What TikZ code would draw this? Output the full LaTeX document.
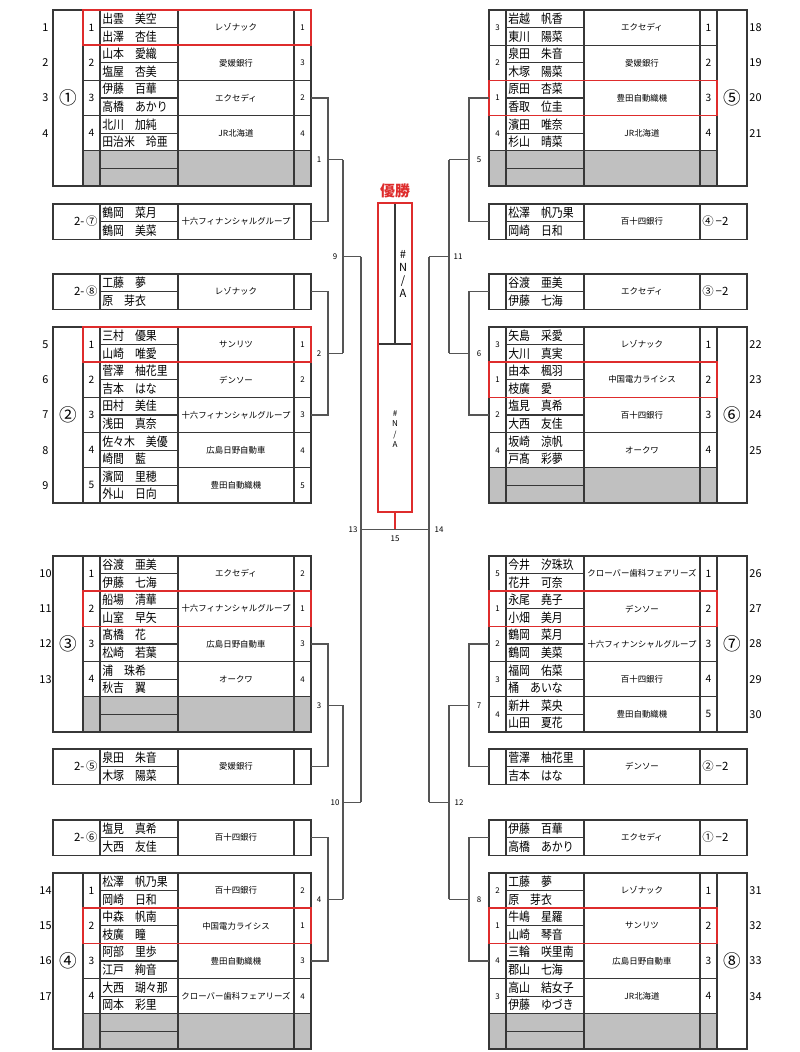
\documentclass[tikz,border=0pt]{standalone}
\usepackage{fontspec}
\setmainfont{Noto Sans CJK JP}
\usepackage{graphicx}
\usepackage{tikz}
\usetikzlibrary{calc}
\definecolor{winred}{RGB}{222,44,44}
\definecolor{rowgray}{RGB}{192,192,192}
\definecolor{linegray}{RGB}{55,55,55}
\definecolor{linkgray}{RGB}{85,85,85}
\tikzset{
  cell/.style={draw=linegray, line width=0.6pt},
  link/.style={draw=linkgray, line width=0.6pt},
  winbox/.style={draw=winred, line width=0.9pt},
  pname/.style={anchor=west, inner sep=0pt, font=\fontsize{6.2}{7}\selectfont},
  tname/.style={inner sep=0pt, font=\fontsize{4.8}{5}\selectfont},
  rowno/.style={inner sep=0pt, font=\fontsize{6.2}{7}\selectfont},
  bigno/.style={inner sep=0pt, font=\fontsize{5.8}{6}\selectfont},
  smallno/.style={inner sep=0pt, font=\fontsize{4.5}{5}\selectfont},
  poolno/.style={inner sep=0pt, font=\fontsize{10}{11}\selectfont},
  qualno/.style={inner sep=0pt, font=\fontsize{6.5}{7}\selectfont},
  linkno/.style={inner sep=0pt, font=\fontsize{4.5}{5}\selectfont},
  champ/.style={inner sep=0pt, text=winred, font=\fontsize{8.5}{9}\selectfont\bfseries}
}
\begin{document}
\begin{tikzpicture}[x=0.02cm, y=-0.02cm]
\fill[white] (0,0) rectangle (800,1052);
\useasboundingbox (0,0) rectangle (800,1052);
% empty rows
\foreach \tp in {10,556,873} \fill[rowgray] (83,\tp+140.8) rectangle (311,\tp+176);
\foreach \tp in {10,327,873} \fill[rowgray] (489,\tp+140.8) rectangle (717,\tp+176);
% pools left
\foreach \tp/\cn [count=\k] in {10/①,327/②,556/③,873/④}{
  \draw[cell] (53,\tp) rectangle (311,\tp+176);
  \foreach \x in {83,100,178,294} \draw[cell] (\x,\tp) -- (\x,\tp+176);
  \foreach \i in {1,...,4} \draw[cell] (83,\tp+35.2*\i) -- (311,\tp+35.2*\i);
  \foreach \i in {0,...,4} \draw[cell] (100,\tp+35.2*\i+17.6) -- (178,\tp+35.2*\i+17.6);
  \node[poolno] (pool\k) at (68,\tp+88) {\cn};
}
% pools right
\foreach \tp/\cn [count=\k from 5] in {10/⑤,327/⑥,556/⑦,873/⑧}{
  \draw[cell] (489,\tp) rectangle (747,\tp+176);
  \foreach \x in {506,584,700,717} \draw[cell] (\x,\tp) -- (\x,\tp+176);
  \foreach \i in {1,...,4} \draw[cell] (489,\tp+35.2*\i) -- (717,\tp+35.2*\i);
  \foreach \i in {0,...,4} \draw[cell] (506,\tp+35.2*\i+17.6) -- (584,\tp+35.2*\i+17.6);
  \node[poolno] (pool\k) at (732,\tp+88) {\cn};
}
% players left
\foreach \tp/\i/\rk/\na/\nb/\tm/\sc/\no in {
  10/1/1/出雲　美空/出澤　杏佳/レゾナック/1/1,
  10/2/2/山本　愛織/塩屋　杏美/愛媛銀行/3/2,
  10/3/3/伊藤　百華/高橋　あかり/エクセディ/2/3,
  10/4/4/北川　加純/田治米　玲亜/JR北海道/4/4,
  327/1/1/三村　優果/山崎　唯愛/サンリツ/1/5,
  327/2/2/菅澤　柚花里/吉本　はな/デンソー/2/6,
  327/3/3/田村　美佳/浅田　真奈/十六フィナンシャルグループ/3/7,
  327/4/4/佐々木　美優/崎間　藍/広島日野自動車/4/8,
  327/5/5/濱岡　里穂/外山　日向/豊田自動織機/5/9,
  556/1/1/谷渡　亜美/伊藤　七海/エクセディ/2/10,
  556/2/2/船場　清華/山室　早矢/十六フィナンシャルグループ/1/11,
  556/3/3/髙橋　花/松崎　若葉/広島日野自動車/3/12,
  556/4/4/浦　珠希/秋吉　翼/オークワ/4/13,
  873/1/1/松澤　帆乃果/岡崎　日和/百十四銀行/2/14,
  873/2/2/中森　帆南/枝廣　瞳/中国電力ライシス/1/15,
  873/3/3/阿部　里歩/江戸　絢音/豊田自動織機/3/16,
  873/4/4/大西　瑚々那/岡本　彩里/クローバー歯科フェアリーズ/4/17}{
  \pgfmathsetmacro\yc{\tp+35.2*\i-17.6}
  \coordinate (L\no) at (311,\yc);
  \node[rowno] (no\no) at (45.5,\yc) {\no};
  \node[bigno] (rk\no) at (91.5,\yc) {\rk};
  \node[pname] (na\no) at (102,\yc-8.8) {\scalebox{1}[1.15]{\na}};
  \node[pname] (nb\no) at (102,\yc+8.8) {\scalebox{1}[1.15]{\nb}};
  \node[tname] (tm\no) at (236,\yc) {\tm};
  \node[smallno] (sc\no) at (302.5,\yc) {\sc};
}
% players right
\foreach \tp/\i/\rk/\na/\nb/\tm/\sc/\no in {
  10/1/3/岩越　帆香/東川　陽菜/エクセディ/1/18,
  10/2/2/泉田　朱音/木塚　陽菜/愛媛銀行/2/19,
  10/3/1/原田　杏菜/香取　位圭/豊田自動織機/3/20,
  10/4/4/濱田　唯奈/杉山　晴菜/JR北海道/4/21,
  327/1/3/矢島　采愛/大川　真実/レゾナック/1/22,
  327/2/1/由本　楓羽/枝廣　愛/中国電力ライシス/2/23,
  327/3/2/塩見　真希/大西　友佳/百十四銀行/3/24,
  327/4/4/坂崎　涼帆/戸髙　彩夢/オークワ/4/25,
  556/1/5/今井　汐珠玖/花井　可奈/クローバー歯科フェアリーズ/1/26,
  556/2/1/永尾　堯子/小畑　美月/デンソー/2/27,
  556/3/2/鶴岡　菜月/鶴岡　美菜/十六フィナンシャルグループ/3/28,
  556/4/3/福岡　佑菜/桶　あいな/百十四銀行/4/29,
  556/5/4/新井　菜央/山田　夏花/豊田自動織機/5/30,
  873/1/2/工藤　夢/原　芽衣/レゾナック/1/31,
  873/2/1/牛嶋　星羅/山崎　琴音/サンリツ/2/32,
  873/3/4/三輪　咲里南/郡山　七海/広島日野自動車/3/33,
  873/4/3/高山　結女子/伊藤　ゆづき/JR北海道/4/34}{
  \pgfmathsetmacro\yc{\tp+35.2*\i-17.6}
  \coordinate (R\no) at (489,\yc);
  \node[rowno] (no\no) at (755.5,\yc) {\no};
  \node[smallno] (rk\no) at (497.5,\yc) {\rk};
  \node[pname] (na\no) at (508,\yc-8.8) {\scalebox{1}[1.15]{\na}};
  \node[pname] (nb\no) at (508,\yc+8.8) {\scalebox{1}[1.15]{\nb}};
  \node[tname] (tm\no) at (642,\yc) {\tm};
  \node[bigno] (sc\no) at (708.5,\yc) {\sc};
}
% second places left
\foreach \tp/\cn/\na/\nb/\tm in {
  204/⑦/鶴岡　菜月/鶴岡　美菜/十六フィナンシャルグループ,
  274/⑧/工藤　夢/原　芽衣/レゾナック,
  749/⑤/泉田　朱音/木塚　陽菜/愛媛銀行,
  820/⑥/塩見　真希/大西　友佳/百十四銀行}{
  \draw[cell] (53,\tp) rectangle (311,\tp+35.2);
  \foreach \x in {100,178,294} \draw[cell] (\x,\tp) -- (\x,\tp+35.2);
  \draw[cell] (100,\tp+17.6) -- (178,\tp+17.6);
  \coordinate (Q\cn) at (311,\tp+17.6);
  \node[qualno, anchor=east] (qn\cn) at (98,\tp+17.6) {2-\,\cn};
  \node[pname] (qa\cn) at (102,\tp+8.8) {\scalebox{1}[1.15]{\na}};
  \node[pname] (qb\cn) at (102,\tp+26.4) {\scalebox{1}[1.15]{\nb}};
  \node[tname] (qt\cn) at (236,\tp+17.6) {\tm};
}
% second places right
\foreach \tp/\cn/\na/\nb/\tm in {
  204/④/松澤　帆乃果/岡崎　日和/百十四銀行,
  274/③/谷渡　亜美/伊藤　七海/エクセディ,
  749/②/菅澤　柚花里/吉本　はな/デンソー,
  820/①/伊藤　百華/高橋　あかり/エクセディ}{
  \draw[cell] (489,\tp) rectangle (747,\tp+35.2);
  \foreach \x in {506,584,700} \draw[cell] (\x,\tp) -- (\x,\tp+35.2);
  \draw[cell] (506,\tp+17.6) -- (584,\tp+17.6);
  \coordinate (P\cn) at (489,\tp+17.6);
  \node[qualno, anchor=west] (pn\cn) at (702,\tp+17.6) {\cn\,−2};
  \node[pname] (pa\cn) at (508,\tp+8.8) {\scalebox{1}[1.15]{\na}};
  \node[pname] (pb\cn) at (508,\tp+26.4) {\scalebox{1}[1.15]{\nb}};
  \node[tname] (pt\cn) at (642,\tp+17.6) {\tm};
}
% winners of the pools
\foreach \tp in {10,327,591.2,908.2} \draw[winbox] (83,\tp) rectangle (311,\tp+35.2);
\foreach \tp in {80.4,362.2,591.2,908.2} \draw[winbox] (489,\tp) rectangle (717,\tp+35.2);
% first round
\foreach \ta/\tb/\k/\dx/\ox/\lx in {L3/Q⑦/1/17/15/-9, Q⑧/L7/2/17/15/-9,
  L12/Q⑤/3/17/15/-9, Q⑥/L16/4/17/15/-9, R20/P④/5/-20/-20/10,
  P③/R24/6/-20/-20/10, R28/P②/7/-20/-20/10, P①/R33/8/-20/-20/10}{
  \coordinate (J\k) at ($(\ta)!.5!(\tb)+(\dx,0)$);
  \coordinate (O\k) at ($(J\k)+(\ox,0)$);
  \draw[link] (\ta) -| (J\k) |- (\tb);
  \draw[link] (J\k) -- (O\k);
  \node[linkno] (lk\k) at ($(J\k)+(\lx,0)$) {\k};
}
% second round
\foreach \ta/\tb/\k/\ox/\lx in {O1/O2/9/18/-8, O3/O4/10/18/-8,
  O5/O6/11/-20/9, O7/O8/12/-20/10}{
  \coordinate (J\k) at ($(\ta)!.5!(\tb)$);
  \coordinate (O\k) at ($(J\k)+(\ox,0)$);
  \draw[link] (\ta) -- (\tb);
  \draw[link] (J\k) -- (O\k);
  \node[linkno] (lk\k) at ($(J\k)+(\lx,0)$) {\k};
}
% final
\coordinate (J13) at ($(O9)!.5!(O10)$);
\coordinate (J14) at ($(O11)!.5!(O12)$);
\draw[link] (O9) -- (O10);
\draw[link] (O11) -- (O12);
\draw[link] (J13) -- (J14);
\node[linkno] (lk13) at ($(J13)+(-8,0)$) {13};
\node[linkno] (lk14) at ($(J14)+(10,0)$) {14};
\node[linkno] (lk15) at ($(J13)!.5!(J14)+(0,9)$) {15};
% champion
\node[champ] (title) at (395,191) {優勝};
\draw[cell] (378,344) -- (412,344);
\draw[cell] (395,203) -- (395,344);
\node[inner sep=0pt, align=center, font=\fontsize{6.3}{7.4}\selectfont] (na1) at (403,274) {\#\\N\\/\\A};
\node[inner sep=0pt, align=center, font=\fontsize{4.6}{6}\selectfont] (na2) at (395,429) {\#\\N\\/\\A};
\node[winbox, minimum width=0.68cm, minimum height=6.18cm, inner sep=0pt] (champ) at (395,357.5) {};
\draw[winbox] (champ.south) -- (champ.south |- J13);
\end{tikzpicture}
\end{document}
